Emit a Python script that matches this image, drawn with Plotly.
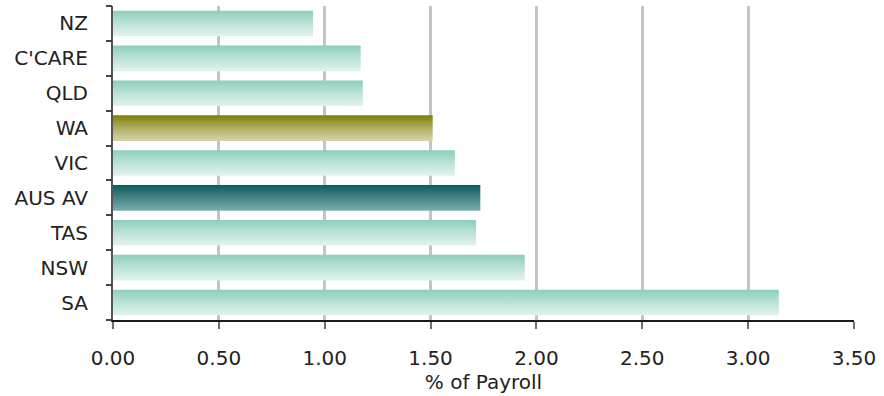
import plotly.graph_objects as go

# Workers' compensation premium rates by jurisdiction (% of payroll)
categories = ["NZ", "C'CARE", "QLD", "WA", "VIC", "AUS AV", "TAS", "NSW", "SA"]
values = [0.945, 1.17, 1.18, 1.51, 1.615, 1.735, 1.715, 1.945, 3.145]
x_ticks = [0.0, 0.5, 1.0, 1.5, 2.0, 2.5, 3.0, 3.5]
x_tick_labels = ["0.00", "0.50", "1.00", "1.50", "2.00", "2.50", "3.00", "3.50"]

# gradient colours per bar: (bottom, middle, top)
TEAL = ("#E3F3EF", "#B6E0D5", "#8CCEBD")
OLIVE = ("#D6D4A7", "#ACAA5C", "#7E7D00")
DARK = ("#7DAEAE", "#407F80", "#0A5E5F")
bar_styles = {"WA": OLIVE, "AUS AV": DARK}

FONT = "DejaVu Sans"
TEXT = "#222222"
half = 0.367  # half bar thickness, in category units

n = len(categories)
fig = go.Figure()

for k, (cat, val) in enumerate(zip(categories, values)):
    pos = n - 1 - k  # first category drawn at the top
    lo, mid, hi = bar_styles.get(cat, TEAL)
    fig.add_trace(go.Scatter(
        x=[0, val, val, 0, 0],
        y=[pos - half, pos - half, pos + half, pos + half, pos - half],
        mode="lines",
        line=dict(width=0),
        fill="toself",
        fillgradient=dict(
            type="vertical",
            colorscale=[[0, lo], [0.55, mid], [1, hi]],
            start=pos - half,
            stop=pos + half,
        ),
        name=cat,
        hoverinfo="skip",
        showlegend=False,
    ))

# invisible trace carrying the boundary ticks on the overlaid axis
fig.add_trace(go.Scatter(x=[None], y=[None], yaxis="y2", showlegend=False))

label_pos = [n - 1 - k for k in range(n)]
boundaries = [i - 0.5 for i in range(n + 1)]

fig.update_layout(
    width=884,
    height=396,
    margin=dict(l=113, r=30, t=6, b=76),
    paper_bgcolor="white",
    plot_bgcolor="white",
    font=dict(family=FONT, size=20, color=TEXT),
    xaxis=dict(
        range=[0, 3.5],
        tickvals=x_ticks,
        ticktext=x_tick_labels,
        showgrid=True,
        gridcolor="#C4C4C4",
        gridwidth=2.5,
        zeroline=False,
        showline=True,
        linecolor="#1a1a1a",
        linewidth=1.5,
        ticks="outside",
        ticklen=7,
        tickwidth=2,
        tickcolor="#6e6e6e",
        ticklabelstandoff=12,
        tickfont=dict(size=20),
        title=dict(text="% of Payroll", font=dict(size=20), standoff=0),
    ),
    yaxis=dict(
        range=[-0.5, n - 0.5],
        tickvals=label_pos,
        ticktext=categories,
        ticks="",
        showgrid=False,
        zeroline=False,
        showline=True,
        linecolor="#555555",
        linewidth=2,
        ticklabelstandoff=19,
        tickfont=dict(size=20),
    ),
    yaxis2=dict(
        overlaying="y",
        range=[-0.5, n - 0.5],
        tickvals=boundaries,
        ticktext=[""] * len(boundaries),
        ticks="outside",
        ticklen=6,
        tickwidth=1.5,
        tickcolor="#444444",
        showgrid=False,
        zeroline=False,
        showline=False,
        side="left",
    ),
)

fig.write_html("out.html")
